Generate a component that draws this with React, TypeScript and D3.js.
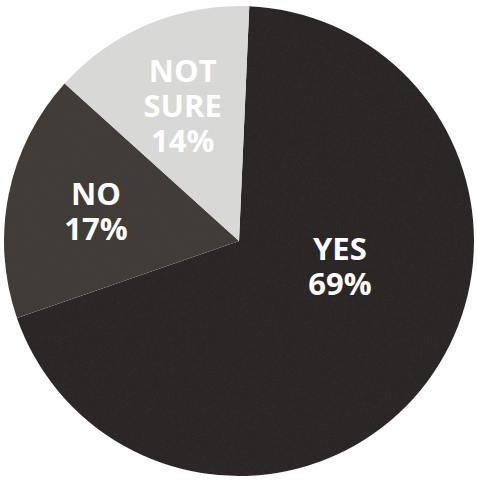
import React from "react";
import * as d3 from "d3";

const categories = ["YES", "NO", "NOT SURE"];
const values = [69, 17, 14];
const labelLines = [["YES", "69%"], ["NO", "17%"], ["NOT", "SURE", "14%"]];

const colors = ["#2a2826", "#403c39", "#d8d8d6"];
// label placement: [angle in degrees clockwise from top, radius]
const labelPlacement = [[104, 104], [null, 146], [null, 146]];

export default function App() {
  const W = 477, H = 483;
  const cx = 239, cy = 241, r = 235;
  const offset = (2.5 * Math.PI) / 180;
  const pie = d3.pie<number>().sort(null).startAngle(offset).endAngle(2 * Math.PI + offset);
  const arcs = pie(values);
  const arc = d3.arc<d3.PieArcDatum<number>>().innerRadius(0).outerRadius(r);
  const fs = 31, lh = 35;

  return (
    <svg width={W} height={H} style={{ position: "absolute", left: 0, top: 0, background: "#fff" }}>
      <defs>
        <filter id="noise" x="0" y="0" width="100%" height="100%">
          <feTurbulence type="fractalNoise" baseFrequency="0.9" numOctaves="2" seed="3" result="t" />
          <feColorMatrix in="t" type="matrix"
            values="0 0 0 0 0.5  0 0 0 0 0.5  0 0 0 0 0.5  0 0 0 0.35 0" result="n" />
          <feComposite in="n" in2="SourceGraphic" operator="in" result="nn" />
          <feBlend in="SourceGraphic" in2="nn" mode="overlay" />
        </filter>
      </defs>
      <g transform={`translate(${cx},${cy})`}>
        {arcs.map((a, i) => (
          <path key={categories[i]} d={arc(a) || ""} fill={colors[i]} filter="url(#noise)" />
        ))}
        {arcs.map((a, i) => {
          const [angDeg, rad] = labelPlacement[i];
          const ang = angDeg == null ? (a.startAngle + a.endAngle) / 2 : (angDeg * Math.PI) / 180;
          const x = Math.sin(ang) * rad;
          const y = -Math.cos(ang) * rad;
          const lines = labelLines[i];
          const top = y - ((lines.length - 1) * lh) / 2;
          return (
            <g key={"l" + i}>
              {lines.map((t, j) => (
                <text key={j} x={x} y={top + j * lh} dy="0.35em" textAnchor="middle" fill="#fff"
                  fontFamily="'Open Sans', sans-serif" fontWeight={700} fontSize={fs}>{t}</text>
              ))}
            </g>
          );
        })}
      </g>
    </svg>
  );
}
